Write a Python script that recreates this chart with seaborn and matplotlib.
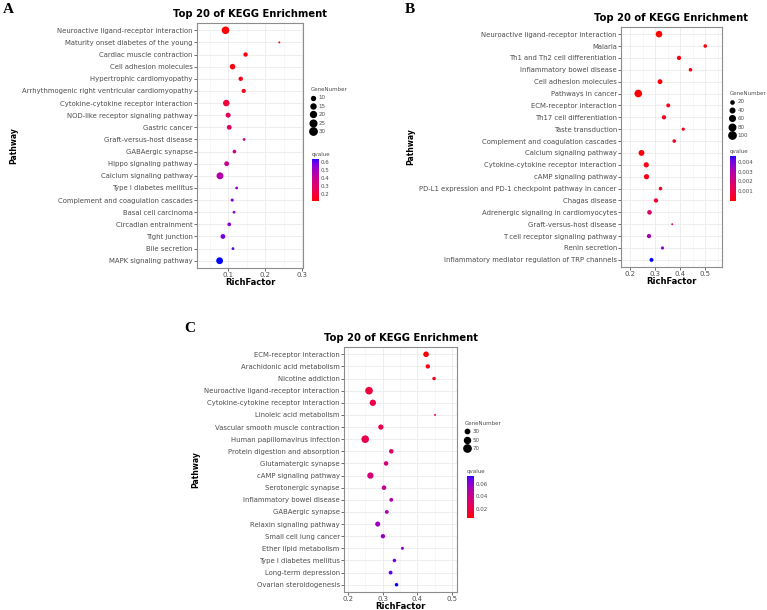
import numpy as np
import pandas as pd
import matplotlib
matplotlib.use("Agg")
import matplotlib.pyplot as plt
import seaborn as sns
from matplotlib.colors import ListedColormap, Normalize
from matplotlib.lines import Line2D
from matplotlib.cm import ScalarMappable

# ---- 데이터 (panel A) ----
a_pathway = ['Neuroactive ligand-receptor interaction', 'Maturity onset diabetes of the young',
             'Cardiac muscle contraction', 'Cell adhesion molecules', 'Hypertrophic cardiomyopathy',
             'Arrhythmogenic right ventricular cardiomyopathy', 'Cytokine-cytokine receptor interaction',
             'NOD-like receptor signaling pathway', 'Gastric cancer', 'Graft-versus-host disease',
             'GABAergic synapse', 'Hippo signaling pathway', 'Calcium signaling pathway',
             'Type I diabetes mellitus', 'Complement and coagulation cascades', 'Basal cell carcinoma',
             'Circadian entrainment', 'Tight junction', 'Bile secretion', 'MAPK signaling pathway']
a_rich = [0.093, 0.238, 0.147, 0.112, 0.134, 0.142, 0.095, 0.100, 0.103, 0.143,
          0.117, 0.096, 0.078, 0.123, 0.111, 0.116, 0.103, 0.086, 0.113, 0.077]
a_gene = [32, 4, 12, 18, 12, 11, 24, 15, 14, 6, 9, 14, 27, 6, 7, 6, 9, 14, 6, 26]
a_q = [0.12, 0.115, 0.13, 0.13, 0.14, 0.14, 0.20, 0.27, 0.29, 0.32,
       0.37, 0.38, 0.45, 0.52, 0.56, 0.56, 0.55, 0.57, 0.61, 0.645]

# ---- 데이터 (panel B) ----
b_pathway = ['Neuroactive ligand-receptor interaction', 'Malaria', 'Th1 and Th2 cell differentiation',
             'Inflammatory bowel disease', 'Cell adhesion molecules', 'Pathways in cancer',
             'ECM-receptor interaction', 'Th17 cell differentiation', 'Taste transduction',
             'Complement and coagulation cascades', 'Calcium signaling pathway',
             'Cytokine-cytokine receptor interaction', 'cAMP signaling pathway',
             'PD-L1 expression and PD-1 checkpoint pathway in cancer', 'Chagas disease',
             'Adrenergic signaling in cardiomyocytes', 'Graft-versus-host disease',
             'T cell receptor signaling pathway', 'Renin secretion',
             'Inflammatory mediator regulation of TRP channels']
b_rich = [0.315, 0.500, 0.395, 0.441, 0.319, 0.232, 0.352, 0.335, 0.412, 0.376,
          0.245, 0.264, 0.265, 0.321, 0.303, 0.277, 0.368, 0.275, 0.329, 0.285]
b_gene = [82, 25, 35, 25, 45, 108, 30, 35, 20, 25, 65, 52, 52, 25, 35, 40, 8, 35, 20, 30]
b_q = [0.00001, 0.0001, 0.0002, 0.0002, 0.0001, 0.00001, 0.0002, 0.0003, 0.0003, 0.0004,
       0.0001, 0.0002, 0.0002, 0.0004, 0.0006, 0.0016, 0.0019, 0.0031, 0.0035, 0.0046]

# ---- 데이터 (panel C) ----
c_pathway = ['ECM-receptor interaction', 'Arachidonic acid metabolism', 'Nicotine addiction',
             'Neuroactive ligand-receptor interaction', 'Cytokine-cytokine receptor interaction',
             'Linoleic acid metabolism', 'Vascular smooth muscle contraction',
             'Human papillomavirus infection', 'Protein digestion and absorption',
             'Glutamatergic synapse', 'cAMP signaling pathway', 'Serotonergic synapse',
             'Inflammatory bowel disease', 'GABAergic synapse', 'Relaxin signaling pathway',
             'Small cell lung cancer', 'Ether lipid metabolism', 'Type I diabetes mellitus',
             'Long-term depression', 'Ovarian steroidogenesis']
c_rich = [0.425, 0.430, 0.448, 0.261, 0.272, 0.451, 0.295, 0.250, 0.325, 0.310,
          0.265, 0.304, 0.325, 0.312, 0.286, 0.301, 0.357, 0.334, 0.323, 0.340]
c_gene = [45, 30, 22, 76, 55, 12, 40, 76, 32, 32, 55, 32, 25, 25, 38, 30, 18, 22, 25, 22]
c_q = [0.006, 0.008, 0.010, 0.018, 0.020, 0.020, 0.022, 0.022, 0.028, 0.035,
       0.035, 0.042, 0.048, 0.050, 0.055, 0.058, 0.062, 0.065, 0.068, 0.0734]


# ggplot 스타일 red -> blue (Lab 보간)
M = np.array([[0.4124, 0.3576, 0.1805], [0.2126, 0.7152, 0.0722], [0.0193, 0.1192, 0.9505]])
WHITE = np.array([0.95047, 1.0, 1.08883])


def to_lab(c):
    c = np.asarray(c, float)
    lin = np.where(c <= 0.04045, c / 12.92, ((c + 0.055) / 1.055) ** 2.4)
    xyz = M @ lin / WHITE
    f = np.where(xyz > 0.008856, np.cbrt(xyz), 7.787 * xyz + 16 / 116)
    return np.array([116 * f[1] - 16, 500 * (f[0] - f[1]), 200 * (f[1] - f[2])])


def from_lab(lab):
    L, a, b = lab
    fy = (L + 16) / 116
    f = np.array([fy + a / 500, fy, fy - b / 200])
    xyz = np.where(f ** 3 > 0.008856, f ** 3, (f - 16 / 116) / 7.787) * WHITE
    lin = np.clip(np.linalg.inv(M) @ xyz, 0, 1)
    c = np.where(lin <= 0.0031308, 12.92 * lin, 1.055 * lin ** (1 / 2.4) - 0.055)
    return np.clip(c, 0, 1)


lab_r, lab_b = to_lab([1, 0, 0]), to_lab([0, 0, 1])
cmap = ListedColormap([from_lab(lab_r + t * (lab_b - lab_r)) for t in np.linspace(0, 1, 256)])

SIZES = (2, 30)
TICK_FS = 4.95
TXT = '#4D4D4D'


def draw_panel(fig, rect, pathway, rich, gene, q, xlim, xticks, qnorm, gnorm, gbreaks,
               leg_xy, cbar_rect, qticks, qfmt):
    df = pd.DataFrame({'Pathway': pathway, 'RichFactor': rich, 'GeneNumber': gene, 'qvalue': q})
    ax = fig.add_axes(rect)
    sns.scatterplot(data=df, x='RichFactor', y='Pathway', hue='qvalue', size='GeneNumber',
                    palette=cmap, hue_norm=qnorm, sizes=SIZES, size_norm=gnorm,
                    legend=False, linewidth=0, ax=ax, zorder=3)
    step = xticks[1] - xticks[0]
    ax.set_xticks(xticks)
    ax.set_xticklabels([f'{t:g}' for t in xticks])
    ax.set_xticks([xticks[0] - step / 2] + [t + step / 2 for t in xticks], minor=True)
    ax.set_xlim(*xlim)
    ax.set_ylim(len(pathway) - 0.4, -0.6)
    ax.grid(True, which='major', color='#EBEBEB', lw=0.6, zorder=0)
    ax.grid(True, which='minor', axis='x', color='#F2F2F2', lw=0.4, zorder=0)
    ax.set_axisbelow(True)
    ax.tick_params(axis='both', which='major', labelsize=TICK_FS, labelcolor=TXT,
                   length=2, width=0.5, color='#333333', pad=1)
    ax.tick_params(axis='x', which='major', pad=0.8)
    ax.tick_params(axis='x', which='minor', length=0)
    for s in ax.spines.values():
        s.set_color('#8C8C8C')
        s.set_linewidth(0.8)
    ax.set_title('Top 20 of KEGG Enrichment', fontsize=7.2, fontweight='bold', pad=4)
    ax.set_xlabel('RichFactor', fontsize=6, fontweight='bold', labelpad=0)
    ax.set_ylabel('Pathway', fontsize=5.5, fontweight='bold', labelpad=3)

    # GeneNumber 범례
    handles = []
    for g in gbreaks:
        s = SIZES[0] + (g - gnorm[0]) / (gnorm[1] - gnorm[0]) * (SIZES[1] - SIZES[0])
        handles.append(Line2D([], [], marker='o', ls='', color='black', markersize=np.sqrt(s)))
    leg = ax.legend(handles, [str(g) for g in gbreaks], title='GeneNumber', loc='upper left',
                    bbox_to_anchor=leg_xy, bbox_transform=fig.transFigure, frameon=False,
                    fontsize=4, title_fontsize=4, handlelength=0.8, handletextpad=0.5,
                    labelspacing=0.62, borderpad=0, borderaxespad=0, alignment='left')
    for t in leg.get_texts():
        t.set_color(TXT)
    leg.get_title().set_color(TXT)

    # qvalue 컬러바
    cax = fig.add_axes(cbar_rect)
    cb = fig.colorbar(ScalarMappable(norm=Normalize(*qnorm), cmap=cmap), cax=cax)
    cb.set_ticks(qticks)
    cb.set_ticklabels([qfmt.format(t) for t in qticks])
    cb.outline.set_visible(False)
    cax.tick_params(labelsize=4, labelcolor=TXT, length=0, pad=1.5)
    cax.set_title('qvalue', fontsize=4, color=TXT, loc='left', pad=2)
    return ax


W, H = 767, 610
fig = plt.figure(figsize=(W / 100, H / 100), dpi=100)


def fr(left, top, right, bottom):
    return [left / W, 1 - bottom / H, (right - left) / W, (bottom - top) / H]


draw_panel(fig, fr(197, 23, 303, 268), a_pathway, a_rich, a_gene, a_q,
           (0.016, 0.302), [0.1, 0.2, 0.3], (0.114, 0.645), (4, 32), [10, 15, 20, 25, 30],
           (311 / W, 1 - 87 / H), fr(311.5, 158.5, 318.5, 201), [0.2, 0.3, 0.4, 0.5, 0.6], '{:.1f}')

draw_panel(fig, fr(621, 27, 722, 267), b_pathway, b_rich, b_gene, b_q,
           (0.163, 0.567), [0.2, 0.3, 0.4, 0.5], (0.0, 0.0046), (8, 108), [20, 40, 60, 80, 100],
           (730 / W, 1 - 91 / H), fr(729.5, 156, 736, 201), [0.001, 0.002, 0.003, 0.004], '{:.3f}')

draw_panel(fig, fr(344, 347, 457, 592), c_pathway, c_rich, c_gene, c_q,
           (0.189, 0.514), [0.2, 0.3, 0.4, 0.5], (0.006, 0.0734), (12, 76), [30, 50, 70],
           (465 / W, 1 - 421 / H), fr(466.5, 475.5, 473.5, 517.5), [0.02, 0.04, 0.06], '{:.2f}')

for lbl, x, y in [('A', 3, 3), ('B', 405, 3), ('C', 184, 322)]:
    fig.text(x / W, 1 - y / H, lbl, family='Liberation Serif', fontweight='bold',
             fontsize=11, ha='left', va='top')

fig.savefig('out.png', dpi=100)
